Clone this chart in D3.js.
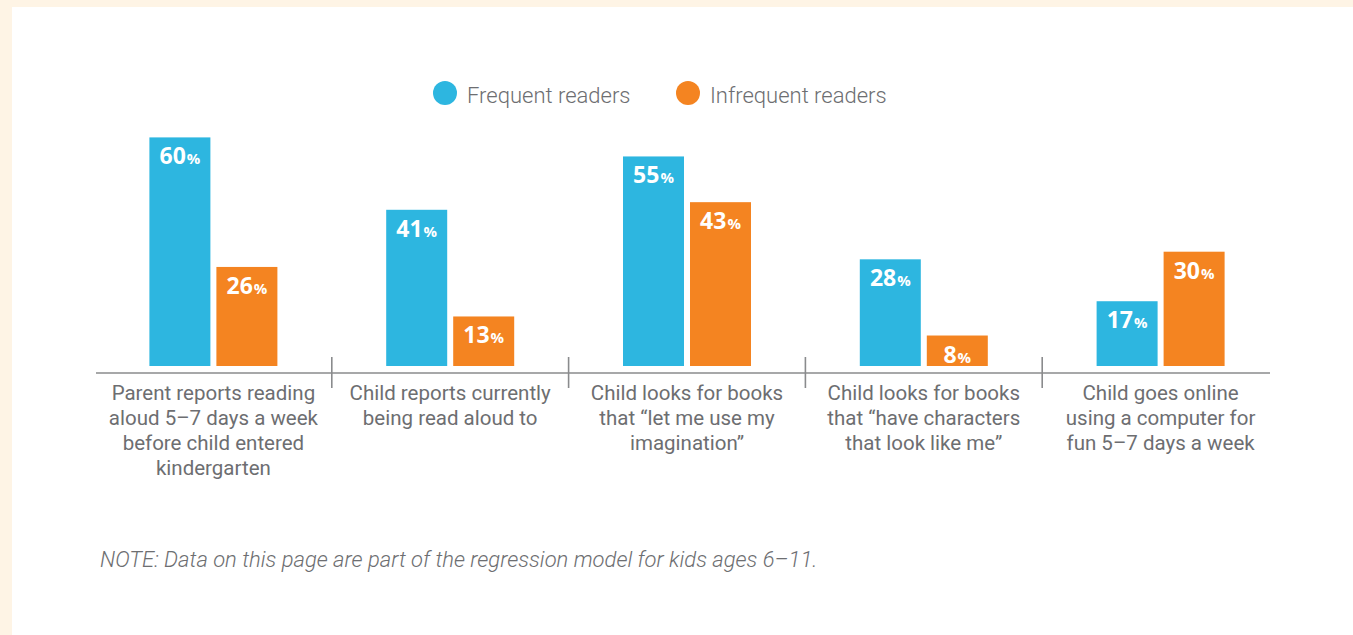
<!DOCTYPE html>
<html>
<head>
<meta charset="utf-8">
<script src="https://cdn.jsdelivr.net/npm/d3@7"></script>
<style>
  html, body { margin: 0; padding: 0; background: #fef4e5; }
  svg { display: block; }
</style>
</head>
<body>
<svg id="chart" width="1353" height="635"></svg>
<script>
const categories = [
  ["Parent reports reading", "aloud 5–7 days a week", "before child entered", "kindergarten"],
  ["Child reports currently", "being read aloud to"],
  ["Child looks for books", "that “let me use my", "imagination”"],
  ["Child looks for books", "that “have characters", "that look like me”"],
  ["Child goes online", "using a computer for", "fun 5–7 days a week"]
];
const seriesNames = ["Frequent readers", "Infrequent readers"];
const frequent = [60, 41, 55, 28, 17];
const infrequent = [26, 13, 43, 8, 30];
const note = "NOTE: Data on this page are part of the regression model for kids ages 6–11.";

const colors = ["#2db6e0", "#f48421"];
const grey = "#6d6e71";

const svg = d3.select("#chart");
// cream frame and white panel
svg.append("rect").attr("x", 0).attr("y", 0).attr("width", 1353).attr("height", 635).attr("fill", "#fef4e5");
svg.append("rect").attr("x", 12).attr("y", 7).attr("width", 1341).attr("height", 628).attr("fill", "#ffffff");

const idx = d3.range(categories.length);
const x = d3.scaleBand().domain(idx).range([95, 1279]).paddingInner(0).paddingOuter(0);
const xi = d3.scaleBand().domain(seriesNames).range([-64, 64]).paddingInner(6 / 67).paddingOuter(0);
const y = d3.scaleLinear().domain([0, 100]).range([366, -15]);

const data = [];
idx.forEach(i => {
  data.push({ i, s: seriesNames[0], v: frequent[i], c: colors[0] });
  data.push({ i, s: seriesNames[1], v: infrequent[i], c: colors[1] });
});

const g = svg.append("g");
g.selectAll("rect.bar").data(data).enter().append("rect")
  .attr("class", "bar")
  .attr("x", d => x(d.i) + x.bandwidth() / 2 + xi(d.s))
  .attr("width", xi.bandwidth())
  .attr("y", d => y(d.v))
  .attr("height", d => y(0) - y(d.v))
  .attr("fill", d => d.c);

const lab = g.selectAll("text.val").data(data).enter().append("text")
  .attr("class", "val")
  .attr("x", d => x(d.i) + x.bandwidth() / 2 + xi(d.s) + xi.bandwidth() / 2)
  .attr("y", d => y(d.v) + 27)
  .attr("text-anchor", "middle")
  .attr("fill", "#ffffff")
  .style("font-family", "'Open Sans', sans-serif")
  .style("font-weight", "700");
lab.append("tspan").attr("font-size", 23).text(d => d.v);
lab.append("tspan").attr("font-size", 15).attr("dx", 1).text("%");

// axis line
const axisY = 373;
svg.append("line").attr("x1", 96).attr("x2", 1270).attr("y1", axisY).attr("y2", axisY)
  .attr("stroke", "#8a8b8d").attr("stroke-width", 1.6);
// tick separators between groups
svg.selectAll("line.sep").data(idx.slice(1)).enter().append("line")
  .attr("class", "sep")
  .attr("x1", d => x(d)).attr("x2", d => x(d))
  .attr("y1", 357).attr("y2", 388)
  .attr("stroke", "#8a8b8d").attr("stroke-width", 1.6);

// category labels
const cl = svg.selectAll("text.cat").data(idx).enter().append("text")
  .attr("class", "cat")
  .attr("text-anchor", "middle")
  .attr("fill", grey)
  .style("font-family", "Roboto, sans-serif")
  .style("font-size", "20.5px");
cl.each(function(i) {
  const t = d3.select(this);
  categories[i].forEach((line, k) => {
    t.append("tspan").attr("x", x(i) + x.bandwidth() / 2).attr("y", 400 + k * 25).text(line);
  });
});

// legend
const legendPos = [445, 688];
seriesNames.forEach((s, k) => {
  svg.append("circle").attr("cx", legendPos[k]).attr("cy", 93).attr("r", 12).attr("fill", colors[k]);
  svg.append("text").attr("x", legendPos[k] + 22).attr("y", 102.5)
    .attr("fill", grey)
    .style("font-family", "Roboto, sans-serif")
    .style("font-weight", "300")
    .style("font-size", "22px")
    .text(s);
});

// note
svg.append("text").attr("x", 100).attr("y", 567)
  .attr("fill", grey)
  .style("font-family", "Roboto, sans-serif")
  .style("font-weight", "300")
  .style("font-style", "italic")
  .style("font-size", "22px")
  .text(note);
</script>
</body>
</html>
